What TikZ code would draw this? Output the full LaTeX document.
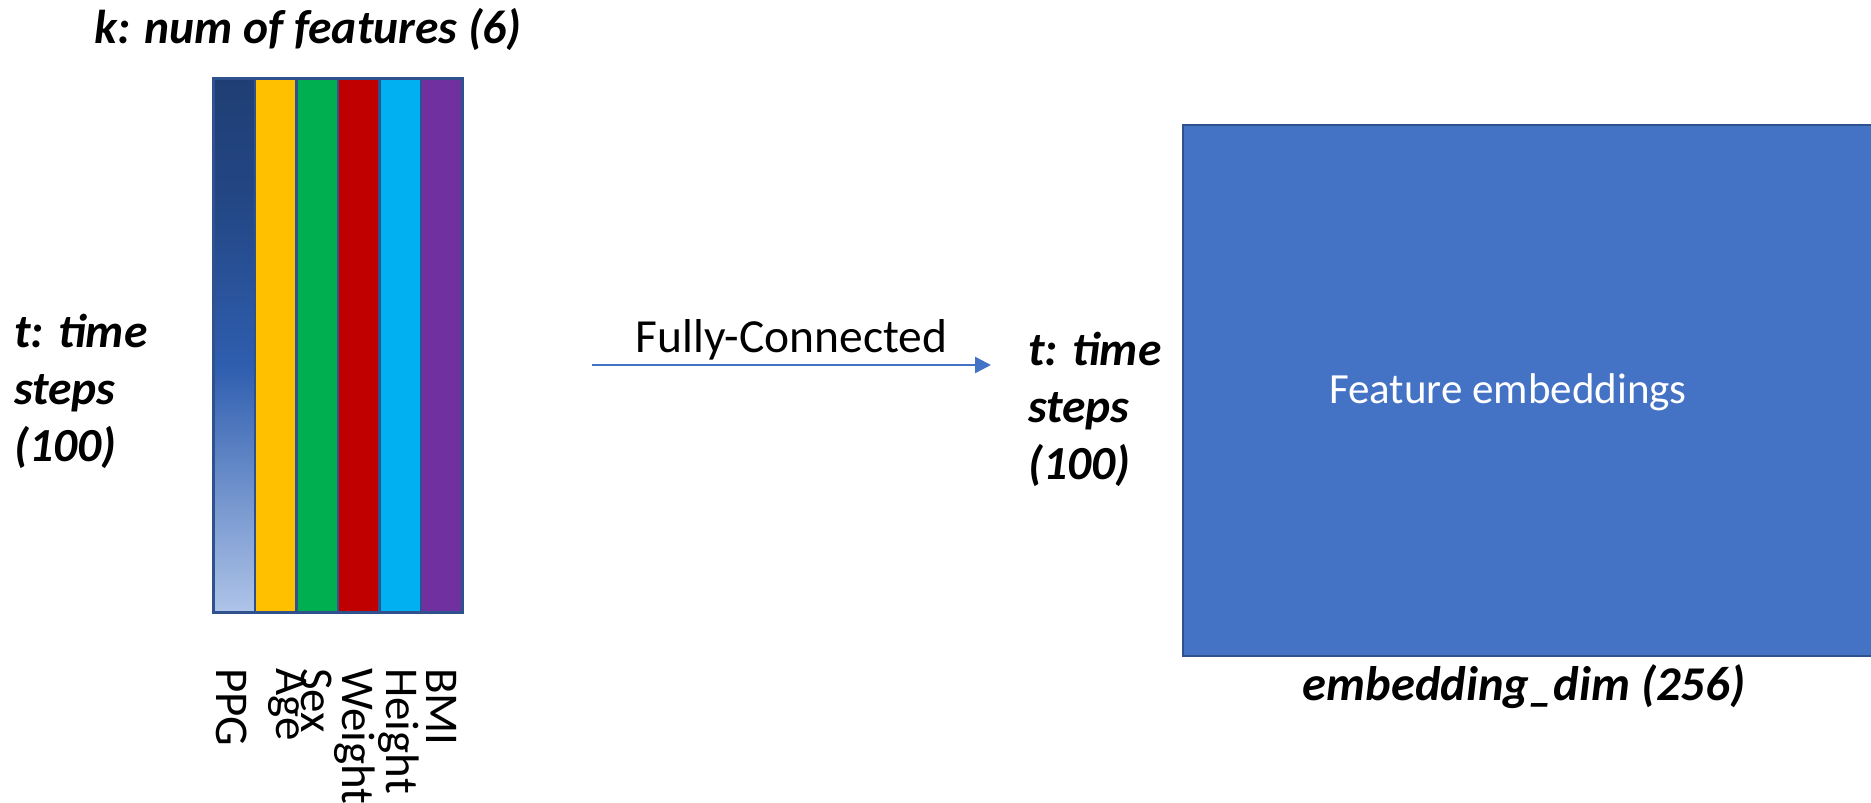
\documentclass[tikz,border=0pt]{standalone}
\usepackage{fontspec}
\setmainfont{Carlito}
\usepackage{tikz}
\usetikzlibrary{arrows.meta,positioning}
\definecolor{ppgdunkel}{HTML}{1F3E75}
\definecolor{ppgmitte}{HTML}{2F5EAF}
\definecolor{ppghell}{HTML}{AFC4E8}
\definecolor{rahmen}{HTML}{2F528F}
\definecolor{officeblau}{HTML}{4472C4}
\definecolor{alter}{HTML}{FFC000}
\definecolor{geschlecht}{HTML}{00B050}
\definecolor{gewicht}{HTML}{C00000}
\definecolor{groesse}{HTML}{00B0F0}
\definecolor{bmi}{HTML}{7030A0}
%PPG-Verlauf: unten hell, ab der Mitte dunkel (Pfad liegt zwischen 25bp und 75bp)
\pgfdeclareverticalshading{ppgverlauf}{100bp}{color(0bp)=(ppghell); color(25bp)=(ppghell); color(48bp)=(ppgmitte); color(64bp)=(ppgdunkel!75!ppgmitte); color(75bp)=(ppgdunkel); color(100bp)=(ppgdunkel)}
\tikzset{
  beschr/.style={font=\fontsize{47.5}{57}\selectfont\bfseries\itshape, inner sep=0, align=left},
  spalte/.style={draw=rahmen, line width=2.5pt, minimum width=41.5pt, minimum height=534pt, anchor=north west, inner sep=0},
  merkmal/.style={font=\fontsize{47}{56}\selectfont, rotate=-90, anchor=base west, inner sep=0},
  fcpfeil/.style={draw=officeblau, line width=2.5pt, -{Triangle[length=16pt,width=16pt]}},
  embbox/.style={draw=rahmen, fill=officeblau, line width=2pt, minimum width=720pt, minimum height=531pt, anchor=north west, inner sep=0}
}
\begin{document}
\begin{tikzpicture}[x=1pt,y=-1pt]
\clip (0,0) rectangle (1871,803);
  \pgfmathsetmacro{\bw}{41.5}
%Eingabe: 6 Merkmale, PPG als Verlauf
\node[spalte, shading=ppgverlauf] (col1) at (212,77) {};
\foreach \c [count=\i from 2] in {alter,geschlecht,gewicht,groesse,bmi}{
\node[spalte, fill=\c] (col\i) at ({212+(\i-1)*\bw},77) {};
}
\node[beschr, anchor=base] (ktitel) at (308,43) {k: num of features (6)};
\node[beschr, anchor=north west] (tlinks) at (14,314) {t: time\\steps\\(100)};
%Merkmalsnamen, gedreht
\node[merkmal] (lppg) at (216,668) {PPG};
\node[merkmal] (lage) at (276,668) {Age};
\node[merkmal] (lsex) at (301,668) {Sex};
\node[merkmal] (lweight) at (342,668) {Weight};
\node[merkmal] (lheight) at (386,668) {Height};
\node[merkmal] (lbmi) at (426,668) {BMI};
%Fully-Connected
\coordinate (fcstart) at (592,365);
\coordinate (fcende) at (991,365);
\draw[fcpfeil] (fcstart) -- node[above, font=\fontsize{47.5}{57}\selectfont, text=black] (fclabel) {Fully-Connected} (fcende);
%Ausgabe
\node[beschr, anchor=north west] (trechts) at (1028,332) {t: time\\steps\\(100)};
\node[embbox] (emb) at (1182,124) {};
\node[font=\fontsize{43}{52}\selectfont, text=white] (embtext) at (1508,392) {Feature embeddings};
\node[beschr, font=\fontsize{48.5}{58}\selectfont\bfseries\itshape, anchor=base] (embdim) at (1524,700) {embedding\_dim (256)};
\end{tikzpicture}
\end{document}
